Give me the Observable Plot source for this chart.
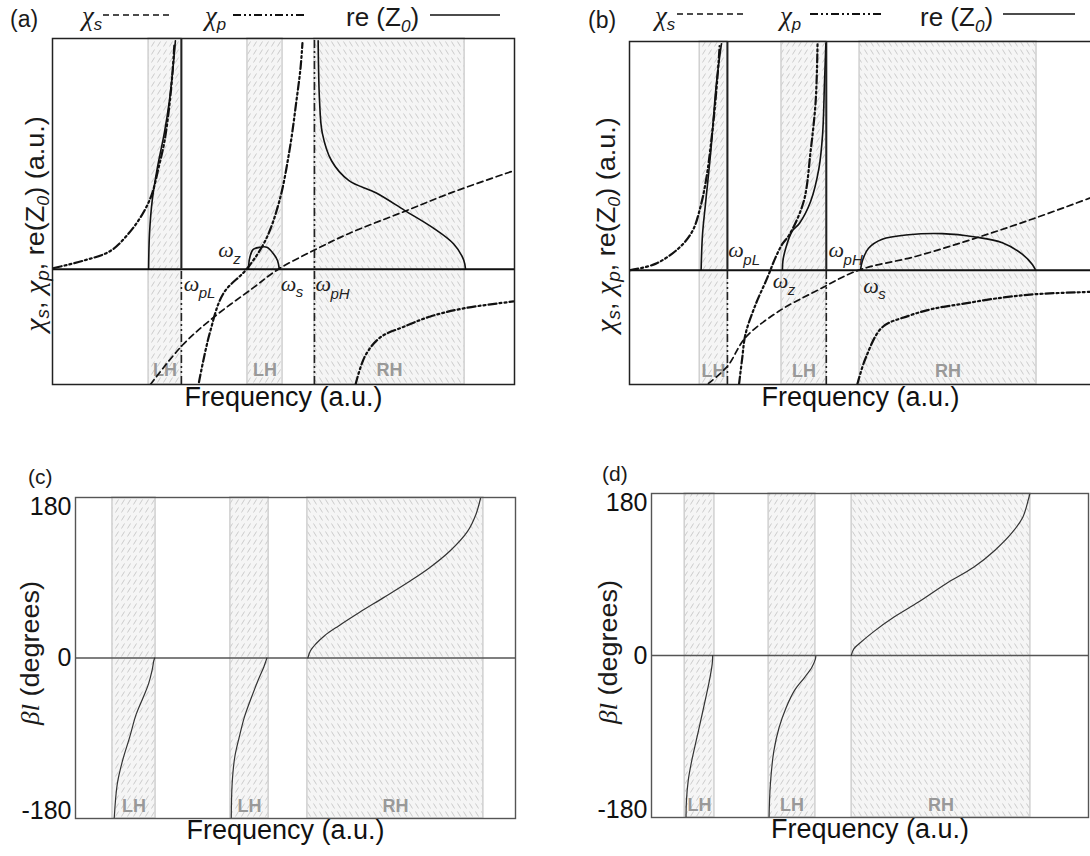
<!DOCTYPE html>
<html><head><meta charset="utf-8">
<script src="https://cdn.jsdelivr.net/npm/d3@7"></script>
<script src="https://cdn.jsdelivr.net/npm/@observablehq/plot@0.6"></script>
<style>
body{margin:0;background:#fff;}
#page{position:relative;width:1090px;height:856px;overflow:hidden;background:#fff;font-family:"Liberation Sans",Arial,sans-serif;color:#1a1a1a;}
.abs{position:absolute;white-space:nowrap;line-height:1;}
.chi{font-family:"Liberation Serif","Times New Roman",serif;font-style:italic;}
.sub{font-style:italic;position:relative;}
.rot{position:absolute;white-space:nowrap;line-height:1;transform:translate(-50%,-50%) rotate(-90deg) scaleX(1.08);}
</style></head><body><div id="page"></div>
<script>
const SANS = '"Liberation Sans", Arial, sans-serif';
const SERIF = '"Liberation Serif", "Times New Roman", serif';

// ---------- Panel (a) data: [frequency (a.u., 0-100), value (a.u.)] ----------
const bandsA = [{kind:"LH", f1:20.8, f2:27.9},{kind:"LH", f1:42.2, f2:49.8},{kind:"RH", f1:56.7, f2:89.2}];
const chiSA = [[21.2,-1.0],[28.1,-0.66],[34.8,-0.42],[43.5,-0.16],[48.9,0],[56.9,0.17],[64.2,0.31],[75.5,0.49],[86.8,0.67],[99.6,0.85]];
const chiPA1 = [[0.3,0.01],[6.8,0.075],[12.6,0.16],[16.9,0.33],[19.8,0.50],[21.6,0.66],[22.9,0.87],[24.2,1.10],[25.3,1.42],[26.0,1.72],[26.4,1.96]];
const chiPA2 = [[31.7,-0.98],[34.0,-0.56],[37.0,-0.21],[42.0,0.0],[46.1,0.25],[49.1,0.59],[51.3,1.03],[52.8,1.46],[53.7,1.75],[54.1,1.96]];
const chiPA3 = [[65.6,-1.0],[67.7,-0.75],[71.0,-0.59],[76.0,-0.50],[81.8,-0.41],[89.0,-0.34],[99.8,-0.28]];
const zA1 = [[20.8,0],[21.0,0.31],[21.6,0.60],[22.7,0.88],[24.2,1.18],[25.3,1.46],[26.1,1.75],[26.6,1.98]];
const zA2 = [[42.4,0.0],[42.7,0.10],[43.4,0.17],[44.9,0.19],[46.4,0.19],[47.9,0.13],[48.7,0.075],[49.1,0.0]];
const zA3 = [[57.5,1.98],[57.8,1.46],[58.4,1.18],[60.4,0.94],[64.1,0.77],[70.1,0.66],[76.2,0.51],[82.3,0.36],[86.8,0.22],[89.0,0.08],[89.4,0]];
const rulesA = [{f:27.9,y1:0,y2:2,s:"solid"},{f:27.9,y1:-1,y2:0,s:"dd"},{f:56.7,y1:-1,y2:2,s:"dd"}];
const annotA = [{f:35.9,v:0.17,sub:"z",dx:15,dy:10},{f:28.4,v:-0.13,sub:"pL",dx:15,dy:9},{f:49.4,v:-0.13,sub:"s",dx:15,dy:8},{f:56.9,v:-0.13,sub:"pH",dx:15,dy:10}];

// ---------- Panel (b) data ----------
const bandsB = [{kind:"LH", f1:15.2, f2:21.2},{kind:"LH", f1:32.9, f2:42.6},{kind:"RH", f1:49.8, f2:88.1}];
const chiSB = [[17.1,-0.99],[21.2,-0.84],[25.1,-0.59],[32.3,-0.36],[40.5,-0.18],[49.6,0],[61.9,0.12],[74.9,0.28],[87.4,0.45],[99.6,0.63]];
const chiPB1 = [[0.2,0],[5.6,0.055],[10.6,0.19],[13.6,0.34],[15.4,0.56],[16.7,0.82],[17.7,1.13],[18.6,1.48],[19.3,1.83],[19.5,1.96]];
const chiPB2 = [[23.7,-1.0],[24.4,-0.77],[25.1,-0.56],[27.3,-0.30],[29.8,-0.07],[31.6,0.11],[33.1,0.23],[34.6,0.31],[37.7,0.60],[39.2,1.04],[40.3,1.48],[40.7,1.98]];
const chiPB3 = [[49.3,-1.0],[51.1,-0.77],[54.7,-0.50],[60.4,-0.40],[65.5,-0.34],[72.7,-0.29],[80.7,-0.24],[87.9,-0.21],[99.8,-0.19]];
const zB1 = [[15.5,0],[15.8,0.31],[16.5,0.60],[17.6,1.04],[18.8,1.63],[19.9,1.98]];
const zB2 = [[33.1,0],[33.2,0.08],[33.8,0.19],[35.2,0.34],[36.8,0.41],[39.2,0.60],[41.0,0.89],[41.8,1.19],[42.2,1.63],[42.5,1.98]];
const zB3 = [[50.0,0],[50.4,0.08],[51.7,0.19],[54.7,0.27],[60.4,0.31],[67.7,0.32],[74.9,0.29],[80.7,0.24],[85.0,0.14],[87.2,0.05],[87.9,0]];
const rulesB = [{f:21.2,y1:0,y2:2,s:"solid"},{f:21.2,y1:-1,y2:0,s:"dd"},{f:42.6,y1:0,y2:2,s:"solid"},{f:42.6,y1:-1,y2:0,s:"dd"}];
const annotB = [{f:21.4,v:0.175,sub:"pL",dx:15,dy:10},{f:31.0,v:-0.09,sub:"z",dx:15,dy:10},{f:43.1,v:0.175,sub:"pH",dx:15,dy:10},{f:50.6,v:-0.14,sub:"s",dx:15,dy:8}];

// ---------- Panel (c) data: [frequency, βl in degrees] ----------
const bandsC = [{kind:"LH", f1:8.4, f2:18.2},{kind:"LH", f1:35.2, f2:43.9},{kind:"RH", f1:52.7, f2:92.7}];
const betaC1 = [[8.8,-180],[9.5,-141],[10.7,-115],[12.3,-89],[13.8,-63],[15.4,-44],[16.6,-29],[17.4,-14],[17.8,-3],[18.0,0]];
const betaC2 = [[35.4,-180],[35.6,-141],[36.2,-111],[37.2,-89],[38.4,-66],[40.0,-44],[41.5,-25],[42.8,-10],[43.3,-3],[43.5,0]];
const betaC3 = [[52.8,0],[53.4,8.2],[54.6,15.7],[56.6,25],[59.8,36],[64.5,51],[70.1,68],[75.6,85],[80.4,101],[85.1,120],[89.1,142],[91.0,161],[92.1,180]];

// ---------- Panel (d) data ----------
const bandsD = [{kind:"LH", f1:7.6, f2:14.4},{kind:"LH", f1:26.8, f2:37.5},{kind:"RH", f1:45.8, f2:86.7}];
const betaD1 = [[7.9,-180],[8.0,-161],[8.4,-139],[9.2,-117],[10.4,-91],[11.6,-65],[12.6,-43],[13.4,-24],[13.9,-9],[14.0,0]];
const betaD2 = [[26.9,-180],[27.2,-143],[28.0,-106],[29.2,-80],[30.8,-58],[32.7,-39],[35.1,-24],[36.7,-13],[37.5,-4],[37.6,-1]];
const betaD3 = [[45.7,0],[46.3,7.4],[47.5,13],[50.7,26],[55.5,42.7],[61.1,59.4],[67.4,79.8],[73.8,98.3],[78.6,117],[82.6,137],[85.0,154],[86.2,172.6],[86.6,180]];

const betaTicks = [180, 0, -180];

// ---------- helpers ----------
const page = document.getElementById("page");
const DD = "8,3,2,3,2,3";
const DASH = "6,4";

d3.select(page).append("svg").attr("width",0).attr("height",0).style("position","absolute")
  .append("defs").html(`
  <pattern id="hatchL" width="6" height="8" patternUnits="userSpaceOnUse">
    <rect width="6" height="8" fill="#f5f5f5"/>
    <line x1="1.5" y1="6.5" x2="4.5" y2="1.5" stroke="#c6c6c6" stroke-width="0.9"/>
  </pattern>
  <pattern id="hatchR" width="6" height="8" patternUnits="userSpaceOnUse">
    <rect width="6" height="8" fill="#f5f5f5"/>
    <line x1="1.5" y1="1.5" x2="4.5" y2="6.5" stroke="#c6c6c6" stroke-width="0.9"/>
  </pattern>`);

const X = d => d[0], Y = d => d[1];

function bandMarks(bands, lo, hi, labelY) {
  return [
    Plot.rect(bands.filter(d => d.kind === "LH"), {x1:"f1", x2:"f2", y1:lo, y2:hi, fill:"url(#hatchL)", stroke:"#d0d0d0", strokeWidth:1.5}),
    Plot.rect(bands.filter(d => d.kind === "RH"), {x1:"f1", x2:"f2", y1:lo, y2:hi, fill:"url(#hatchR)", stroke:"#d0d0d0", strokeWidth:1.5}),
    Plot.text(bands, {x: d => (d.f1 + d.f2) / 2, y: labelY, text:"kind", fill:"#999", fontWeight:"bold", fontSize:18, fontFamily:SANS})
  ];
}

function place(svg, left, top) {
  svg.style.position = "absolute";
  svg.style.left = left + "px";
  svg.style.top = top + "px";
  page.appendChild(svg);
}

function panelAB(o) {
  const svg = Plot.plot({
    width:o.width, height:420, marginLeft:o.mL, marginRight:o.mR, marginTop:o.mT, marginBottom:o.mB,
    x:{domain:[0,100], axis:null}, y:{domain:[-1,2], axis:null},
    style:{fontFamily:SANS, overflow:"visible", maxWidth:"none", background:"transparent", color:"#111"},
    marks:[
      ...bandMarks(o.bands, -1, 2, -0.88),
      Plot.ruleY([0], {stroke:"#111", strokeWidth:2}),
      Plot.ruleX(o.rules.filter(r => r.s === "solid"), {x:"f", y1:"y1", y2:"y2", stroke:"#222", strokeWidth:2}),
      Plot.ruleX(o.rules.filter(r => r.s === "dd"), {x:"f", y1:"y1", y2:"y2", stroke:"#222", strokeWidth:1.6, strokeDasharray:DD}),
      Plot.line(o.chiS, {x:X, y:Y, curve:"catmull-rom", stroke:"#111", strokeWidth:1.7, strokeDasharray:DASH, clip:true}),
      ...o.chiP.map(seg => Plot.line(seg, {x:X, y:Y, curve:"catmull-rom", stroke:"#111", strokeWidth:2.2, strokeDasharray:DD, clip:true})),
      ...o.z.map(seg => Plot.line(seg, {x:X, y:Y, curve:"catmull-rom", stroke:"#111", strokeWidth:1.6, clip:true})),
      Plot.text(o.annot, {x:"f", y:"v", text: () => "ω", textAnchor:"start", fontFamily:SERIF, fontStyle:"italic", fontSize:22, fill:"#222"}),
      ...o.annot.map(a => Plot.text([a], {x:"f", y:"v", text:"sub", textAnchor:"start", dx:a.dx, dy:a.dy, fontSize:15, fontStyle:"italic", fill:"#222"})),
      Plot.frame({stroke:"#222", strokeWidth:1.5}),
      Plot.text(["Frequency (a.u.)"], {frameAnchor:"bottom", dy:21, fontSize:27, fill:"#111"})
    ]
  });
  place(svg, o.left, 0);
}

function panelCD(o) {
  const svg = Plot.plot({
    width:545, height:406, marginLeft:o.mL, marginRight:o.mR, marginTop:o.mT, marginBottom:o.mB,
    x:{domain:[0,100], axis:null}, y:{domain:[-180,180], axis:null},
    style:{fontFamily:SANS, overflow:"visible", maxWidth:"none", background:"transparent", color:"#111"},
    marks:[
      ...bandMarks(o.bands, -180, 180, -166),
      Plot.ruleY([0], {stroke:"#555", strokeWidth:1.4}),
      ...o.beta.map(seg => Plot.line(seg, {x:X, y:Y, curve:"catmull-rom", stroke:"#333", strokeWidth:1.2})),
      Plot.frame({stroke:"#555", strokeWidth:1.4}),
      Plot.text(betaTicks.filter(t => t > 0), {y:d => d, text:d => String(d), frameAnchor:"left", textAnchor:"end", dx:-4, lineAnchor:"top", fontSize:25, fill:"#111"}),
      Plot.text(betaTicks.filter(t => t === 0), {y:d => d, text:d => String(d), frameAnchor:"left", textAnchor:"end", dx:-4, fontSize:25, fill:"#111"}),
      Plot.text(betaTicks.filter(t => t < 0), {y:d => d, text:d => String(d), frameAnchor:"left", textAnchor:"end", dx:-4, lineAnchor:"bottom", fontSize:25, fill:"#111"}),
      Plot.text(["Frequency (a.u.)"], {frameAnchor:"bottom", dy:20, dx:o.xlabDx, fontSize:27, fill:"#111"})
    ]
  });
  place(svg, o.left, 450);
}

function addDiv(html, left, top, fs, cls) {
  const d = document.createElement("div");
  d.className = cls || "abs";
  d.style.left = left + "px";
  d.style.top = top + "px";
  d.style.fontSize = fs + "px";
  d.innerHTML = html;
  page.appendChild(d);
}
function swatch(x1, x2, y, dash, w) {
  const s = d3.select(page).append("svg").attr("width", x2 - x1).attr("height", 8)
    .style("position","absolute").style("left", x1 + "px").style("top", (y - 4) + "px");
  s.append("line").attr("x1",0).attr("x2",x2 - x1).attr("y1",4).attr("y2",4)
    .attr("stroke","#111").attr("stroke-width",w).attr("stroke-dasharray",dash || null);
}
const chi = sub => `<span class="chi" style="font-size:1.12em">χ</span><span class="sub" style="font-size:0.7em;top:0.28em">${sub}</span>`;
const reZ = `re (Z<span class="sub" style="font-size:0.66em;top:0.33em">0</span>)`;
const ylabAB = `${chi("s")}, ${chi("p")}, re(Z<span class="sub" style="font-size:0.66em;top:0.33em">0</span>) (a.u.)`;
const ylabCD = `<span class="chi">βl</span> (degrees)`;

// ---------- draw ----------
panelAB({left:0, width:545, mL:52, mR:31, mT:38, mB:36, bands:bandsA, chiS:chiSA, chiP:[chiPA1,chiPA2,chiPA3], z:[zA1,zA2,zA3], rules:rulesA, annot:annotA});
panelAB({left:545, width:560, mL:84, mR:14, mT:41, mB:36, bands:bandsB, chiS:chiSB, chiP:[chiPB1,chiPB2,chiPB3], z:[zB1,zB2,zB3], rules:rulesB, annot:annotB});
panelCD({left:0, mL:75, mR:30, mT:47, mB:38, bands:bandsC, beta:[betaC1,betaC2,betaC3], xlabDx:-10});
panelCD({left:545, mL:106, mR:2, mT:43, mB:39, bands:bandsD, beta:[betaD1,betaD2,betaD3], xlabDx:0});

// legends and panel letters
addDiv("(a)", 10, 8, 23);
addDiv(chi("s"), 82, 3, 24); swatch(103, 172, 15, DASH, 1.5);
addDiv(chi("p"), 205, 3, 24); swatch(233, 307, 15, DD, 1.8);
addDiv(reZ, 346, 4, 26); swatch(430, 500, 15, null, 1.5);

addDiv("(b)", 588, 9, 23);
addDiv(chi("s"), 655, 3, 24); swatch(677, 745, 14, DASH, 1.5);
addDiv(chi("p"), 780, 3, 24); swatch(810, 881, 14, DD, 1.8);
addDiv(reZ, 920, 4, 26); swatch(1003, 1075, 14, null, 1.5);

addDiv("(c)", 28, 466, 21);
addDiv("(d)", 602, 463, 21);

addDiv(ylabAB, 35, 224, 25, "rot");
addDiv(ylabAB, 606, 225, 25, "rot");
addDiv(ylabCD, 30, 653, 25, "rot");
addDiv(ylabCD, 608, 652, 25, "rot");
</script></body></html>
